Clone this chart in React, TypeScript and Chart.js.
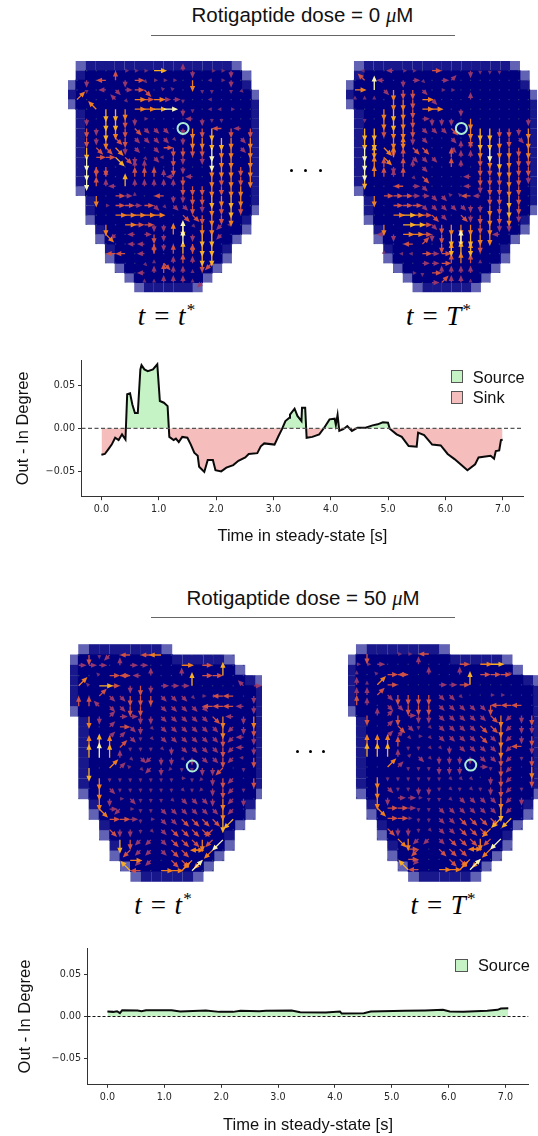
import React, { useEffect, useRef } from "react";
import Chart from "chart.js/auto";

// ---------- time series ----------
const TIME_A = [0,0.06,0.12,0.18,0.24,0.3,0.36,0.42,0.45,0.5,0.54,0.585,0.635,0.68,0.7,0.75,0.81,0.9,0.975,1.02,1.09,1.155,1.185,1.26,1.3,1.35,1.41,1.5,1.56,1.62,1.68,1.705,1.795,1.855,1.945,1.99,2.09,2.18,2.3,2.39,2.51,2.57,2.72,2.78,2.84,3.02,3.09,3.15,3.21,3.28,3.29,3.37,3.42,3.49,3.5,3.555,3.58,3.68,3.8,3.89,3.98,4.07,4.09,4.12,4.15,4.22,4.29,4.37,4.47,4.61,4.73,4.82,4.91,5.0,5.03,5.15,5.24,5.36,5.5,5.525,5.63,5.77,5.92,6.04,6.16,6.28,6.385,6.52,6.58,6.79,6.85,6.88,6.94,6.97,7.0];
const DEGREE_A = [-0.031,-0.03,-0.0246,-0.019,-0.011,-0.0137,-0.007,-0.013,0.04,0.041,0.028,0.018,0.018,0.069,0.074,0.069,0.067,0.069,0.075,0.032,0.03,0.026,-0.01,-0.0137,-0.012,-0.016,-0.01,-0.011,-0.019,-0.0285,-0.032,-0.045,-0.051,-0.037,-0.037,-0.049,-0.0504,-0.046,-0.043,-0.038,-0.034,-0.03,-0.029,-0.021,-0.0176,-0.019,-0.009,-0.001,0.0086,0.0125,0.016,0.023,0.0145,0.0086,0.024,0.024,-0.011,-0.01,-0.007,0.001,0.0105,0.0113,0.004,0.0156,-0.003,-0.001,0.0027,-0.003,0.0008,0.0008,0.0035,0.0047,0.007,0.0066,-0.0004,-0.007,-0.01,-0.0207,-0.0215,-0.005,-0.008,-0.019,-0.02,-0.03,-0.036,-0.043,-0.049,-0.042,-0.034,-0.032,-0.0355,-0.0266,-0.0258,-0.0137,-0.0133];
const TIME_B = [0,0.1,0.17,0.22,0.26,0.53,0.6,0.68,1.13,1.28,1.73,1.97,2.21,2.34,2.67,2.79,3.24,3.39,3.84,4.09,4.12,4.51,4.63,5.23,5.59,5.9,6.02,6.26,6.68,6.86,6.92,7.05];
const DEGREE_B = [0.0059,0.0055,0.0063,0.004,0.0075,0.0071,0.0063,0.0075,0.0075,0.0059,0.0071,0.0055,0.0055,0.0067,0.0063,0.0067,0.0071,0.0051,0.0047,0.0059,0.0035,0.0039,0.0059,0.0067,0.0071,0.0079,0.0059,0.0055,0.0067,0.0079,0.0094,0.0098];

// ---------- tissue silhouettes: [first column, last column + 1] per row ----------
const MASK_TOP = [[0,17],[0,18],[-1,18],[-1,19],[-1,19],[0,19],[0,19],[0,19],[0,19],[0,19],[0,19],[0,19],[0,19],[0,19],[1,19],[1,19],[1,18],[2,18],[2,17],[3,16],[3,16],[4,15],[5,14],[6,13]];
const MASK_BOTTOM = [[0,9],[-1,15],[-1,16],[-1,18],[-1,18],[-1,18],[-1,18],[0,18],[0,18],[0,18],[0,18],[0,18],[0,18],[0,18],[0,18],[1,17],[1,17],[2,16],[2,15],[3,15],[3,14],[4,13],[5,12]];

// ---------- arrow fields: direction (numpad) and magnitude class, one string per grid row ----------
const DIRS_1 = [".....6666..82.662..",".2.48263666.2.462..",".2.43663.77..22.23.","9...73666662..4....","..72226666.22.446..",".2.22226....4222...",".222223333.22224242",".222323333322222232",".233323.36222222232",".26633233422.2222.2",".222..88..22..22222",".288..8888424.22222","..8848888882222222.","..2.668..422222222.","...666663333222222.","....66666..332222..","...2.66622.232214..","...31.4622882221...","......4422.8222....","....44.48.88822....",".......38388821....",".......488888......",".......8888881....."];
const MAGS_1 = ["0000011150022011200","0203323111104011200","0102223301100110110","4000214342210010000","0045544456021011100","0205532000032210002","0325433222024353323","0324332222124455424","0533422023333364424","0633532121320264404","0633002200320044434","0632003332232043434","0032252222233343440","0040321003223354540","0001332321223243530","0000444440033343400","0004043322051442100","0004202232462552000","0000002232063550000","0000330230353550000","0000000113232330000","0000000223221000000","0000000112221200000"];
const DIRS_2 = [".4..466.6...2222...",".7.4.263.69........","6.832223.66........","888.22263...8......","...222266..2.......",".2.22226222.2.....2",".2222223333.2222222",".22.2223..3.2222232",".2232833..388222222",".28388333.888222222",".2882883..88.222222",".2888833....4222222",".....463....422222.","..2666663377442222.","....66633333222222.","....666633.3222222.","...2.666322222222..","...4266622222224...","......49.22822.....","...8.44666888......",".......6668888.....","......6268888......","........69888......"];
const MAGS_2 = ["0100211030002111000","0302022102200000000","4062433201100000000","1110443420002000000","0004543440020000000","0104543222204000002","0553443222304553324","0550442200203554324","0644343300222464434","0654432220322345433","0643232200320334433","0543231300002333432","0000032200002233430","0043332222113233530","0000333222222243530","0000454332032343420","0004055323444342200","0002244323555442000","0000003303565300000","0001011323454000000","0000000223343100000","0000001132222000000","0000000023221000000"];
const DIRS_3 = [".221.4.44.........","666.866...6.6.....","..766448..8.668...","9766.2226668....76","..93322233336644.2","8873322.3333344442",".22966223333332422","...963233333332122","...993233333332142",".88892223233332142",".88883312232332142",".2.997312122221.2","..22222222621221.2","..232222223212212.","..226322233332212.","..36162233333321..","...6662633333321..","...32223333331....","....22113333211...",".....111333641....",".....611.3311.....",".....74.6699......"];
const MAGS_3 = ["031203034000000000","222022200040300000","001333220020335000","415302322225000022","003223332221113302","332223302222233322","042222222222234224","000232212222224223","000222112222223222","045431111222223222","056521222212223213","050421122111223203","004111111111123203","004211111111123210","004212111122224220","004221112222224200","000332112233335500","000322112333330000","000053222333436000","000003222334440000","000004220334400000","000005304446000000"];
const DIRS_4 = [".2..66.4..........","666...8...6.66....","8.7664.8..8.6667..","8896....6668......","88932222333..66...","88.33222333332444.",".28926223333332122","...933233333332122","...993633333332122",".88882233233332142",".88889332222332122","...99222222.6221.2","..2222222333.221.2","..232222232322212.","..226662233333212.","..36662233333321..","...6662233333311..","...32223333331....","....32113333211...",".....61.333641....",".....61..3311.....",".....74.6699......"];
const MAGS_4 = ["030011030000000000","112000200030450000","101333020020333100","214300002235000000","223233332210011000","320223332222233330","032232222222234223","000232112222334222","000221112222324223","044431111222224232","055521212222223213","000421112220213204","004111111111023203","004211221111123210","004222111122224220","004332112222225200","000331112233335500","000322112233340000","000044222333436000","000003303334440000","000003200334400000","000005304446000000"];

const MARKERS = [[10.5, 6.5], [10.5, 6.5], [10.43, 11.29], [10.5, 11.2]];

const TICK_FAMILY = "DejaVu Sans";
const SANS = '"Liberation Sans", Arial, sans-serif';
const SERIF = '"Liberation Serif", serif';

const MAG_LEN = [0, 0.42, 0.78, 1.02, 1.2, 1.35, 1.5];
const MAG_COL = ["", "rgba(122,52,112,0.9)", "rgba(158,58,106,0.95)", "#cf5044", "#ee7d22", "#f8ad27", "#f8f4b4"];
const DIR_VEC: Record<string, [number, number]> = {
  "8": [0, -1], "2": [0, 1], "4": [-1, 0], "6": [1, 0],
  "7": [-0.707, -0.707], "9": [0.707, -0.707], "1": [-0.707, 0.707], "3": [0.707, 0.707],
};

type Panel = {
  left: number; top: number; width: number; height: number;
  cellX0: number; cellY0: number; cellW: number; cellH: number;
  nodeX0: number; nodeY0: number; nodeW: number; nodeH: number;
  mask: number[][]; dirs: string[]; mags: string[]; marker: number[];
};

const PANELS: Panel[] = [
  { left: 68, top: 61, width: 191, height: 232, cellX0: 75.7, cellY0: 61, cellW: 9.76, cellH: 9.63, nodeX0: 77, nodeY0: 70.7, nodeW: 9.63, nodeH: 9.63, mask: MASK_TOP, dirs: DIRS_1, mags: MAGS_1, marker: MARKERS[0] },
  { left: 346, top: 61, width: 191, height: 232, cellX0: 354, cellY0: 61, cellW: 9.76, cellH: 9.63, nodeX0: 355, nodeY0: 70.7, nodeW: 9.63, nodeH: 9.63, mask: MASK_TOP, dirs: DIRS_2, mags: MAGS_2, marker: MARKERS[1] },
  { left: 70, top: 644, width: 192, height: 238, cellX0: 78.3, cellY0: 644.3, cellW: 10.43, cellH: 10.32, nodeX0: 78.7, nodeY0: 655, nodeW: 10.3, nodeH: 10.27, mask: MASK_BOTTOM, dirs: DIRS_3, mags: MAGS_3, marker: MARKERS[2] },
  { left: 348, top: 644, width: 192, height: 238, cellX0: 356, cellY0: 644.3, cellW: 10.43, cellH: 10.32, nodeX0: 356.7, nodeY0: 654, nodeW: 10.3, nodeH: 10.27, mask: MASK_BOTTOM, dirs: DIRS_4, mags: MAGS_4, marker: MARKERS[3] },
];

function cellPoints(mask: number[][]) {
  const inside = (c: number, r: number) => r >= 0 && r < mask.length && c >= mask[r][0] && c < mask[r][1];
  const pts: any[] = [];
  mask.forEach(([a, b], r) => {
    for (let c = a; c < b; c++) {
      const open = [[1, 0], [-1, 0], [0, 1], [0, -1]].filter(([dc, dr]) => !inside(c + dc, r + dr)).length;
      pts.push({ x: c, y: r, open });
    }
  });
  // Interior cells last so that their slight overlap hides the seams between neighbours.
  return pts.sort((a, b) => b.open - a.open);
}

function arrowPoints(dirs: string[], mags: string[]) {
  const pts: any[] = [];
  dirs.forEach((row, j) => {
    for (let i = 0; i < row.length; i++) {
      const m = Number((mags[j] || "")[i] || 0);
      pts.push({ x: i, y: j, d: row[i], m: row[i] === "." ? 0 : Math.max(m, 1) });
    }
  });
  return pts.sort((a, b) => a.m - b.m);
}

const arrowPlugin = {
  id: "arrows",
  afterDatasetDraw(chart: any, args: any) {
    if (args.index !== 1) return;
    const ctx = chart.ctx;
    const ds = chart.data.datasets[1].data;
    const ax = chart.scales.ax, ay = chart.scales.ay;
    ctx.save();
    ds.forEach((p: any) => {
      const x = ax.getPixelForValue(p.x), y = ay.getPixelForValue(p.y);
      if (!p.m) {
        ctx.globalCompositeOperation = "source-atop";
        ctx.fillStyle = "#2c3a72";
        ctx.fillRect(x - 0.6, y - 0.6, 1.2, 1.2);
        ctx.globalCompositeOperation = "source-over";
        return;
      }
      const [ux, uy] = DIR_VEC[p.d];
      const len = MAG_LEN[p.m];
      const tx = ax.getPixelForValue(p.x + ux * len), ty = ay.getPixelForValue(p.y + uy * len);
      const L = Math.hypot(tx - x, ty - y);
      const nx = (tx - x) / L, ny = (ty - y) / L;
      const hl = Math.min(L, p.m === 1 ? 4 : 6);
      const hw = p.m === 1 ? 2 : 2.6;
      const sw = 0.65;
      const bx = tx - nx * hl, by = ty - ny * hl;
      ctx.fillStyle = MAG_COL[p.m];
      ctx.beginPath();
      ctx.moveTo(x - ny * sw, y + nx * sw);
      ctx.lineTo(bx - ny * sw, by + nx * sw);
      ctx.lineTo(bx - ny * hw, by + nx * hw);
      ctx.lineTo(tx, ty);
      ctx.lineTo(bx + ny * hw, by - nx * hw);
      ctx.lineTo(bx + ny * sw, by - nx * sw);
      ctx.lineTo(x + ny * sw, y - nx * sw);
      ctx.closePath();
      ctx.fill();
    });
    ctx.restore();
  },
};

function FieldPanel({ p }: { p: Panel }) {
  const ref = useRef<HTMLCanvasElement>(null);
  useEffect(() => {
    const xMin = (p.left - p.cellX0) / p.cellW - 0.5;
    const yMin = (p.top - p.cellY0) / p.cellH - 0.5;
    const nxMin = (p.left - p.nodeX0) / p.nodeW;
    const nyMin = (p.top - p.nodeY0) / p.nodeH;
    const cells = cellPoints(p.mask);
    const chart = new Chart(ref.current!, {
      type: "scatter",
      data: {
        datasets: [
          {
            data: [{ x: p.marker[0], y: p.marker[1] }],
            xAxisID: "x", yAxisID: "y",
            pointStyle: "circle", pointRadius: 5.5,
            pointBackgroundColor: "rgba(0,0,0,0)",
            pointBorderColor: "#a9ecd2", pointBorderWidth: 2,
          },
          {
            data: arrowPoints(p.dirs, p.mags),
            xAxisID: "ax", yAxisID: "ay", pointRadius: 0,
          },
          {
            data: cells,
            xAxisID: "x", yAxisID: "y",
            pointStyle: "rect",
            pointRadius: (c: any) => (p.cellW + (c.raw && c.raw.open ? 0.1 : 0.9)) * Math.SQRT1_2,
            pointBorderWidth: 0,
            pointBackgroundColor: (c: any) => {
              const o = c.raw ? c.raw.open : 0;
              return o === 0 ? "#00007f" : o === 1 ? "#18188c" : "#6262b4";
            },
          },
        ],
      } as any,
      options: {
        animation: false, responsive: false, events: [],
        layout: { padding: 0, autoPadding: false },
        plugins: { legend: { display: false }, tooltip: { enabled: false } },
        scales: {
          x: { type: "linear", axis: "x", display: false, min: xMin, max: xMin + p.width / p.cellW },
          y: { type: "linear", axis: "y", display: false, reverse: true, min: yMin, max: yMin + p.height / p.cellH },
          ax: { type: "linear", axis: "x", display: false, min: nxMin, max: nxMin + p.width / p.nodeW },
          ay: { type: "linear", axis: "y", display: false, reverse: true, min: nyMin, max: nyMin + p.height / p.nodeH },
        },
      } as any,
      plugins: [arrowPlugin],
    });
    return () => chart.destroy();
  }, []);
  return <canvas ref={ref} width={p.width} height={p.height} style={{ position: "absolute", left: p.left, top: p.top, width: p.width, height: p.height }} />;
}

type LineCfg = {
  top: number; height: number; plotTop: number; yAxisW: number; plotRight: number; xAxisH: number;
  xMin: number; xMax: number; time: number[]; degree: number[];
  zeroColor: string; zeroWidth: number; dash: number[]; ytPad: number; xtPad: number;
};

function LinePanel({ c }: { c: LineCfg }) {
  const ref = useRef<HTMLCanvasElement>(null);
  useEffect(() => {
    const tickFont = { family: TICK_FAMILY, size: 9.6 };
    const chart = new Chart(ref.current!, {
      type: "line",
      data: {
        labels: c.time,
        datasets: [
          {
            data: [{ x: c.xMin, y: 0 }, { x: c.xMax, y: 0 }],
            borderColor: c.zeroColor, borderWidth: c.zeroWidth, borderDash: c.dash, pointRadius: 0, fill: false,
          },
          {
            data: c.time.map((t, i) => ({ x: t, y: c.degree[i] })),
            borderColor: "#0a0a0a", borderWidth: 2, pointRadius: 0, tension: 0,
            fill: { target: { value: 0 }, above: "#c5f3c5", below: "#f6bdbd" },
          },
        ],
      } as any,
      options: {
        animation: false, responsive: false, events: [],
        layout: { padding: { top: c.plotTop - c.top, right: 538 - c.plotRight, left: 0, bottom: 0 }, autoPadding: false },
        plugins: { legend: { display: false }, tooltip: { enabled: false } },
        scales: {
          x: {
            type: "linear", min: c.xMin, max: c.xMax,
            afterFit: (s: any) => { s.height = c.xAxisH; },
            grid: { drawOnChartArea: false, tickLength: 3.5, tickColor: "#333" },
            border: { color: "#333", width: 1 },
            ticks: { stepSize: 1, includeBounds: false, maxRotation: 0, font: tickFont, color: "#262626", padding: 4, callback: (v: any) => Number(v).toFixed(1) },
            title: { display: true, text: "Time in steady-state [s]", font: { family: SANS, size: 16.5 }, color: "#111", padding: { top: 0, bottom: c.xtPad } },
          },
          y: {
            type: "linear", min: -0.08, max: 0.08,
            afterFit: (s: any) => { s.width = c.yAxisW; },
            grid: { drawOnChartArea: false, tickLength: 3.5, tickColor: "#333" },
            border: { color: "#333", width: 1 },
            ticks: { stepSize: 0.05, includeBounds: false, font: tickFont, color: "#262626", padding: 3, callback: (v: any) => { const n = Number(v); return (n < -1e-9 ? "\u2212" : "") + Math.abs(n).toFixed(2); } },
            title: { display: true, text: "Out - In Degree", font: { family: SANS, size: 16.5 }, color: "#111", padding: { top: c.ytPad, bottom: 0 } },
          },
        },
      } as any,
    });
    return () => chart.destroy();
  }, []);
  return <canvas ref={ref} width={538} height={c.height} style={{ position: "absolute", left: 0, top: c.top, width: 538, height: c.height }} />;
}

const LINE_A: LineCfg = { top: 350, height: 200, plotTop: 360, yAxisW: 81.5, plotRight: 523.3, xAxisH: 53.3, xMin: -0.347, xMax: 7.36, time: TIME_A, degree: DEGREE_A, zeroColor: "#555", zeroWidth: 1.3, dash: [4, 2.5], ytPad: 14, xtPad: 3.4 };
const LINE_B: LineCfg = { top: 940, height: 196, plotTop: 948.3, yAxisW: 87.5, plotRight: 528.5, xAxisH: 51.7, xMin: -0.35, xMax: 7.405, time: TIME_B, degree: DEGREE_B, zeroColor: "#111", zeroWidth: 1, dash: [3, 2], ytPad: 16, xtPad: 0.7 };

function Abs({ x, y, children, style }: any) {
  return <div style={{ position: "absolute", left: x, top: y, transform: "translate(-50%,-50%)", whiteSpace: "nowrap", ...style }}>{children}</div>;
}
function Title({ x, y, dose }: any) {
  return <Abs x={x} y={y} style={{ fontFamily: SANS, fontSize: 20.5, color: "#111" }}>Rotigaptide dose = {dose} <i style={{ fontFamily: SERIF }}>{"\u03bc"}</i>M</Abs>;
}
function Rule({ y }: any) {
  return <div style={{ position: "absolute", left: 151, top: y, width: 304, height: 1, background: "#666" }} />;
}
function MathLabel({ x, y, sym }: any) {
  return <Abs x={x} y={y} style={{ fontFamily: SERIF, fontSize: 27, letterSpacing: 1, color: "#000" }}><i>t</i> = <i>{sym}</i><sup style={{ fontSize: 17, lineHeight: 0 }}>*</sup></Abs>;
}
function Dots({ y, xs }: any) {
  return xs.map((x: number) => <div key={x} style={{ position: "absolute", left: x - 1.5, top: y - 1.5, width: 3.4, height: 3.4, borderRadius: "50%", background: "#000" }} />);
}
function LegendItem({ boxX, boxY, boxW, boxH, label, color }: any) {
  return <>
    <div style={{ position: "absolute", left: boxX, top: boxY, width: boxW, height: boxH, boxSizing: "border-box", background: color, border: "1px solid #555" }} />
    <div style={{ position: "absolute", left: boxX + boxW + 9.5, top: boxY + boxH / 2, transform: "translateY(-50%)", fontFamily: SANS, fontSize: 16.4, color: "#111" }}>{label}</div>
  </>;
}

export default function App() {
  return (
    <div style={{ position: "absolute", left: 0, top: 0, width: 538, height: 1136, overflow: "hidden", background: "#fff" }}>
      <Title x={302.4} y={15} dose="0" />
      <Rule y={35} />
      <Title x={303} y={598} dose="50" />
      <Rule y={617} />
      {PANELS.map((p, i) => <FieldPanel key={i} p={p} />)}
      <MathLabel x={167} y={316} sym="t" />
      <MathLabel x={439} y={316} sym="T" />
      <MathLabel x={163.5} y={905} sym="t" />
      <MathLabel x={443.5} y={905} sym="T" />
      <Dots y={170} xs={[291, 305.5, 320]} />
      <Dots y={751} xs={[297, 310, 323]} />
      <LinePanel c={LINE_A} />
      <LinePanel c={LINE_B} />
      <LegendItem boxX={450.6} boxY={370} boxW={12.7} boxH={13} label="Source" color="#c5f3c5" />
      <LegendItem boxX={450.6} boxY={391} boxW={12.7} boxH={12.5} label="Sink" color="#f6bdbd" />
      <LegendItem boxX={454.7} boxY={958.5} boxW={13.7} boxH={13.5} label="Source" color="#c5f3c5" />
    </div>
  );
}
